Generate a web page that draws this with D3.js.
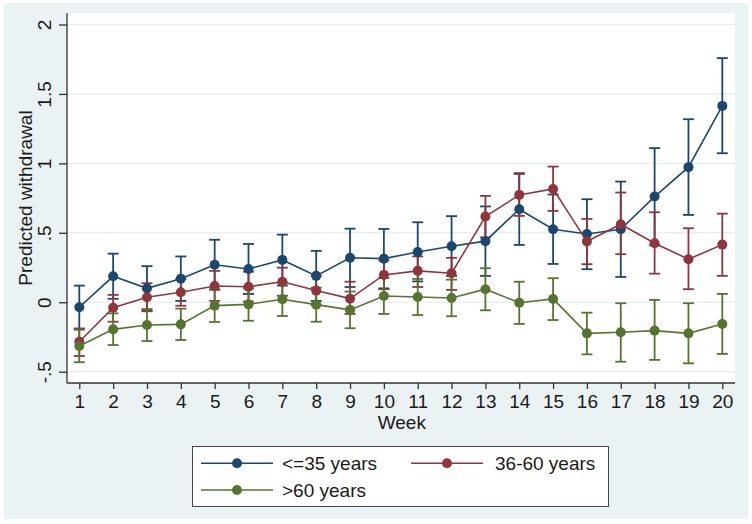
<!DOCTYPE html>
<html>
<head>
<meta charset="utf-8">
<script src="https://cdn.jsdelivr.net/npm/d3@7"></script>
<style>
  body { margin: 0; background: #fff; }
  text { font-family: "Liberation Sans", Arial, sans-serif; fill: #1a1a1a; }
</style>
</head>
<body>
<div id="chart"></div>
<script>
const weeks = d3.range(1, 21);
const yTicks = [-0.5, 0, 0.5, 1, 1.5, 2];
const yTickLabels = ["-.5", "0", ".5", "1", "1.5", "2"];

const groupLabels = ["<=35 years", "36-60 years", ">60 years"];
const groupColors = ["#1a476f", "#90353b", "#55752f"];

const youngEst = [-0.036, 0.187, 0.10, 0.17, 0.27, 0.24, 0.305, 0.19, 0.32, 0.314, 0.362, 0.403, 0.44, 0.67, 0.526, 0.492, 0.526, 0.761, 0.973, 1.414];
const youngLo  = [-0.19, 0.025, -0.06, 0.01, 0.09, 0.06, 0.12, 0.01, 0.11, 0.10, 0.15, 0.19, 0.19, 0.413, 0.276, 0.238, 0.182, 0.41, 0.629, 1.073];
const youngHi  = [0.12, 0.35, 0.26, 0.33, 0.45, 0.42, 0.487, 0.37, 0.53, 0.528, 0.576, 0.62, 0.69, 0.924, 0.776, 0.742, 0.869, 1.11, 1.318, 1.758];

const midEst = [-0.284, -0.039, 0.036, 0.072, 0.117, 0.112, 0.148, 0.084, 0.026, 0.197, 0.226, 0.209, 0.617, 0.773, 0.816, 0.437, 0.562, 0.425, 0.31, 0.415];
const midLo  = [-0.387, -0.14, -0.065, -0.025, 0.01, 0.005, 0.047, -0.02, -0.084, 0.094, 0.11, 0.089, 0.467, 0.622, 0.658, 0.274, 0.346, 0.206, 0.094, 0.19];
const midHi  = [-0.19, 0.053, 0.137, 0.168, 0.226, 0.22, 0.249, 0.19, 0.148, 0.30, 0.33, 0.32, 0.766, 0.93, 0.977, 0.60, 0.79, 0.648, 0.533, 0.638];

const oldEst = [-0.315, -0.195, -0.164, -0.159, -0.024, -0.015, 0.022, -0.017, -0.055, 0.045, 0.038, 0.031, 0.094, -0.003, 0.024, -0.224, -0.216, -0.204, -0.224, -0.156];
const oldLo  = [-0.432, -0.308, -0.279, -0.272, -0.142, -0.133, -0.099, -0.14, -0.187, -0.084, -0.092, -0.101, -0.058, -0.156, -0.128, -0.375, -0.428, -0.415, -0.44, -0.372];
const oldHi  = [-0.198, -0.08, -0.049, -0.046, 0.094, 0.10, 0.143, 0.105, 0.077, 0.174, 0.168, 0.163, 0.245, 0.148, 0.173, -0.075, -0.007, 0.017, -0.007, 0.06];

let width = 752, height = 524;
let plot = {"left": 67, "right": 735, "top": 13, "bottom": 383};

let series = [
  {label: groupLabels[0], color: groupColors[0], est: youngEst, lo: youngLo, hi: youngHi},
  {label: groupLabels[1], color: groupColors[1], est: midEst, lo: midLo, hi: midHi},
  {label: groupLabels[2], color: groupColors[2], est: oldEst, lo: oldLo, hi: oldHi}
];

let x = d3.scaleLinear().domain([1, 20]).range([79.3, 722.3]);
let y = d3.scaleLinear().domain([-0.5, 2]).range([371.7, 24.5]);

const svg = d3.select("#chart")
  .append("svg")
  .attr("width", width)
  .attr("height", height);

// outer graph region
svg.append("rect")
  .attr("x", 4).attr("y", 3)
  .attr("width", 744).attr("height", 516)
  .style("fill", "#eaf2f3");

// plot region
svg.append("rect")
  .attr("x", plot.left).attr("y", plot.top)
  .attr("width", plot.right - plot.left)
  .attr("height", plot.bottom - plot.top)
  .style("fill", "#ffffff");

// gridlines
svg.append("g")
  .selectAll("line")
  .data(yTicks)
  .enter()
  .append("line")
  .attr("x1", plot.left).attr("x2", plot.right)
  .attr("y1", (d) => y(d)).attr("y2", (d) => y(d))
  .style("stroke", "#e6eff1")
  .style("stroke-width", 1.5);

// y axis
const yAxis = d3.axisLeft(y)
  .tickValues(yTicks)
  .tickSize(8)
  .tickFormat((d, i) => yTickLabels[i]);

const gy = svg.append("g")
  .attr("transform", "translate(" + plot.left + ",0)")
  .call(yAxis);
gy.select(".domain").remove();
gy.selectAll(".tick line").style("stroke", "#333").style("stroke-width", 1.3);
gy.selectAll(".tick text")
  .attr("x", 0).attr("dy", null).attr("y", 0)
  .attr("text-anchor", "middle")
  .attr("transform", "translate(-16,0) rotate(-90)")
  .style("font-size", "19px")
  .style("fill", "#1a1a1a");

// x axis
const xAxis = d3.axisBottom(x)
  .tickValues(weeks)
  .tickSize(6)
  .tickFormat(d3.format("d"));

const gx = svg.append("g")
  .attr("transform", "translate(0," + plot.bottom + ")")
  .call(xAxis);
gx.select(".domain").remove();
gx.selectAll(".tick line").style("stroke", "#333").style("stroke-width", 1.3);
gx.selectAll(".tick text")
  .attr("y", 25).attr("dy", null)
  .style("font-size", "19px")
  .style("fill", "#1a1a1a");

// axis lines
svg.append("line")
  .attr("x1", plot.left).attr("x2", plot.left)
  .attr("y1", plot.top).attr("y2", plot.bottom)
  .style("stroke", "#333").style("stroke-width", 1.3);
svg.append("line")
  .attr("x1", plot.left).attr("x2", plot.right)
  .attr("y1", plot.bottom).attr("y2", plot.bottom)
  .style("stroke", "#333").style("stroke-width", 1.3);

// axis titles
svg.append("text")
  .text("Week")
  .attr("x", (x(1) + x(20)) / 2 + 1)
  .attr("y", 429)
  .attr("text-anchor", "middle")
  .style("font-size", "19px");

svg.append("text")
  .text("Predicted withdrawal")
  .attr("transform", "translate(32," + (plot.top + plot.bottom) / 2 + ") rotate(-90)")
  .attr("text-anchor", "middle")
  .style("font-size", "19px");

// error bars (caps)
const capW = 5.5;
series.forEach(function(s) {
  const g = svg.append("g")
    .style("stroke", s.color)
    .style("stroke-width", 1.8)
    .style("fill", "none");
  const bars = g.selectAll("g").data(weeks).enter().append("g");
  bars.append("line")
    .attr("x1", (d) => x(d)).attr("x2", (d) => x(d))
    .attr("y1", (d, i) => y(s.lo[i])).attr("y2", (d, i) => y(s.hi[i]));
  bars.append("line")
    .attr("x1", (d) => x(d) - capW).attr("x2", (d) => x(d) + capW)
    .attr("y1", (d, i) => y(s.lo[i])).attr("y2", (d, i) => y(s.lo[i]));
  bars.append("line")
    .attr("x1", (d) => x(d) - capW).attr("x2", (d) => x(d) + capW)
    .attr("y1", (d, i) => y(s.hi[i])).attr("y2", (d, i) => y(s.hi[i]));
});

// connected lines and markers
const line = d3.line()
  .x((d) => x(d[0]))
  .y((d) => y(d[1]));

series.forEach(function(s) {
  const pts = weeks.map((w, i) => [w, s.est[i]]);
  svg.append("path")
    .datum(pts)
    .attr("d", line)
    .style("fill", "none")
    .style("stroke", s.color)
    .style("stroke-width", 1.6);
  svg.append("g")
    .selectAll("circle")
    .data(pts)
    .enter()
    .append("circle")
    .attr("cx", (d) => x(d[0]))
    .attr("cy", (d) => y(d[1]))
    .attr("r", 5)
    .style("fill", s.color);
});

// legend
const legend = svg.append("g").attr("id", "legend");
legend.append("rect")
  .attr("x", 192.5).attr("y", 446.5)
  .attr("width", 416).attr("height", 60)
  .style("fill", "#fff")
  .style("stroke", "#444")
  .style("stroke-width", 1);

const legendPos = [
  {x: 201, y: 463.3},
  {x: 411, y: 463.3},
  {x: 201, y: 490}
];

series.forEach(function(s, i) {
  const p = legendPos[i];
  legend.append("line")
    .attr("x1", p.x).attr("x2", p.x + 72)
    .attr("y1", p.y).attr("y2", p.y)
    .style("stroke", s.color)
    .style("stroke-width", 1.6);
  legend.append("circle")
    .attr("cx", p.x + 36).attr("cy", p.y)
    .attr("r", 5)
    .style("fill", s.color);
  legend.append("text")
    .text(s.label)
    .attr("x", p.x + (i == 1 ? 84 : 81))
    .attr("y", p.y + 6.7)
    .style("font-size", "19px");
});
</script>
</body>
</html>
